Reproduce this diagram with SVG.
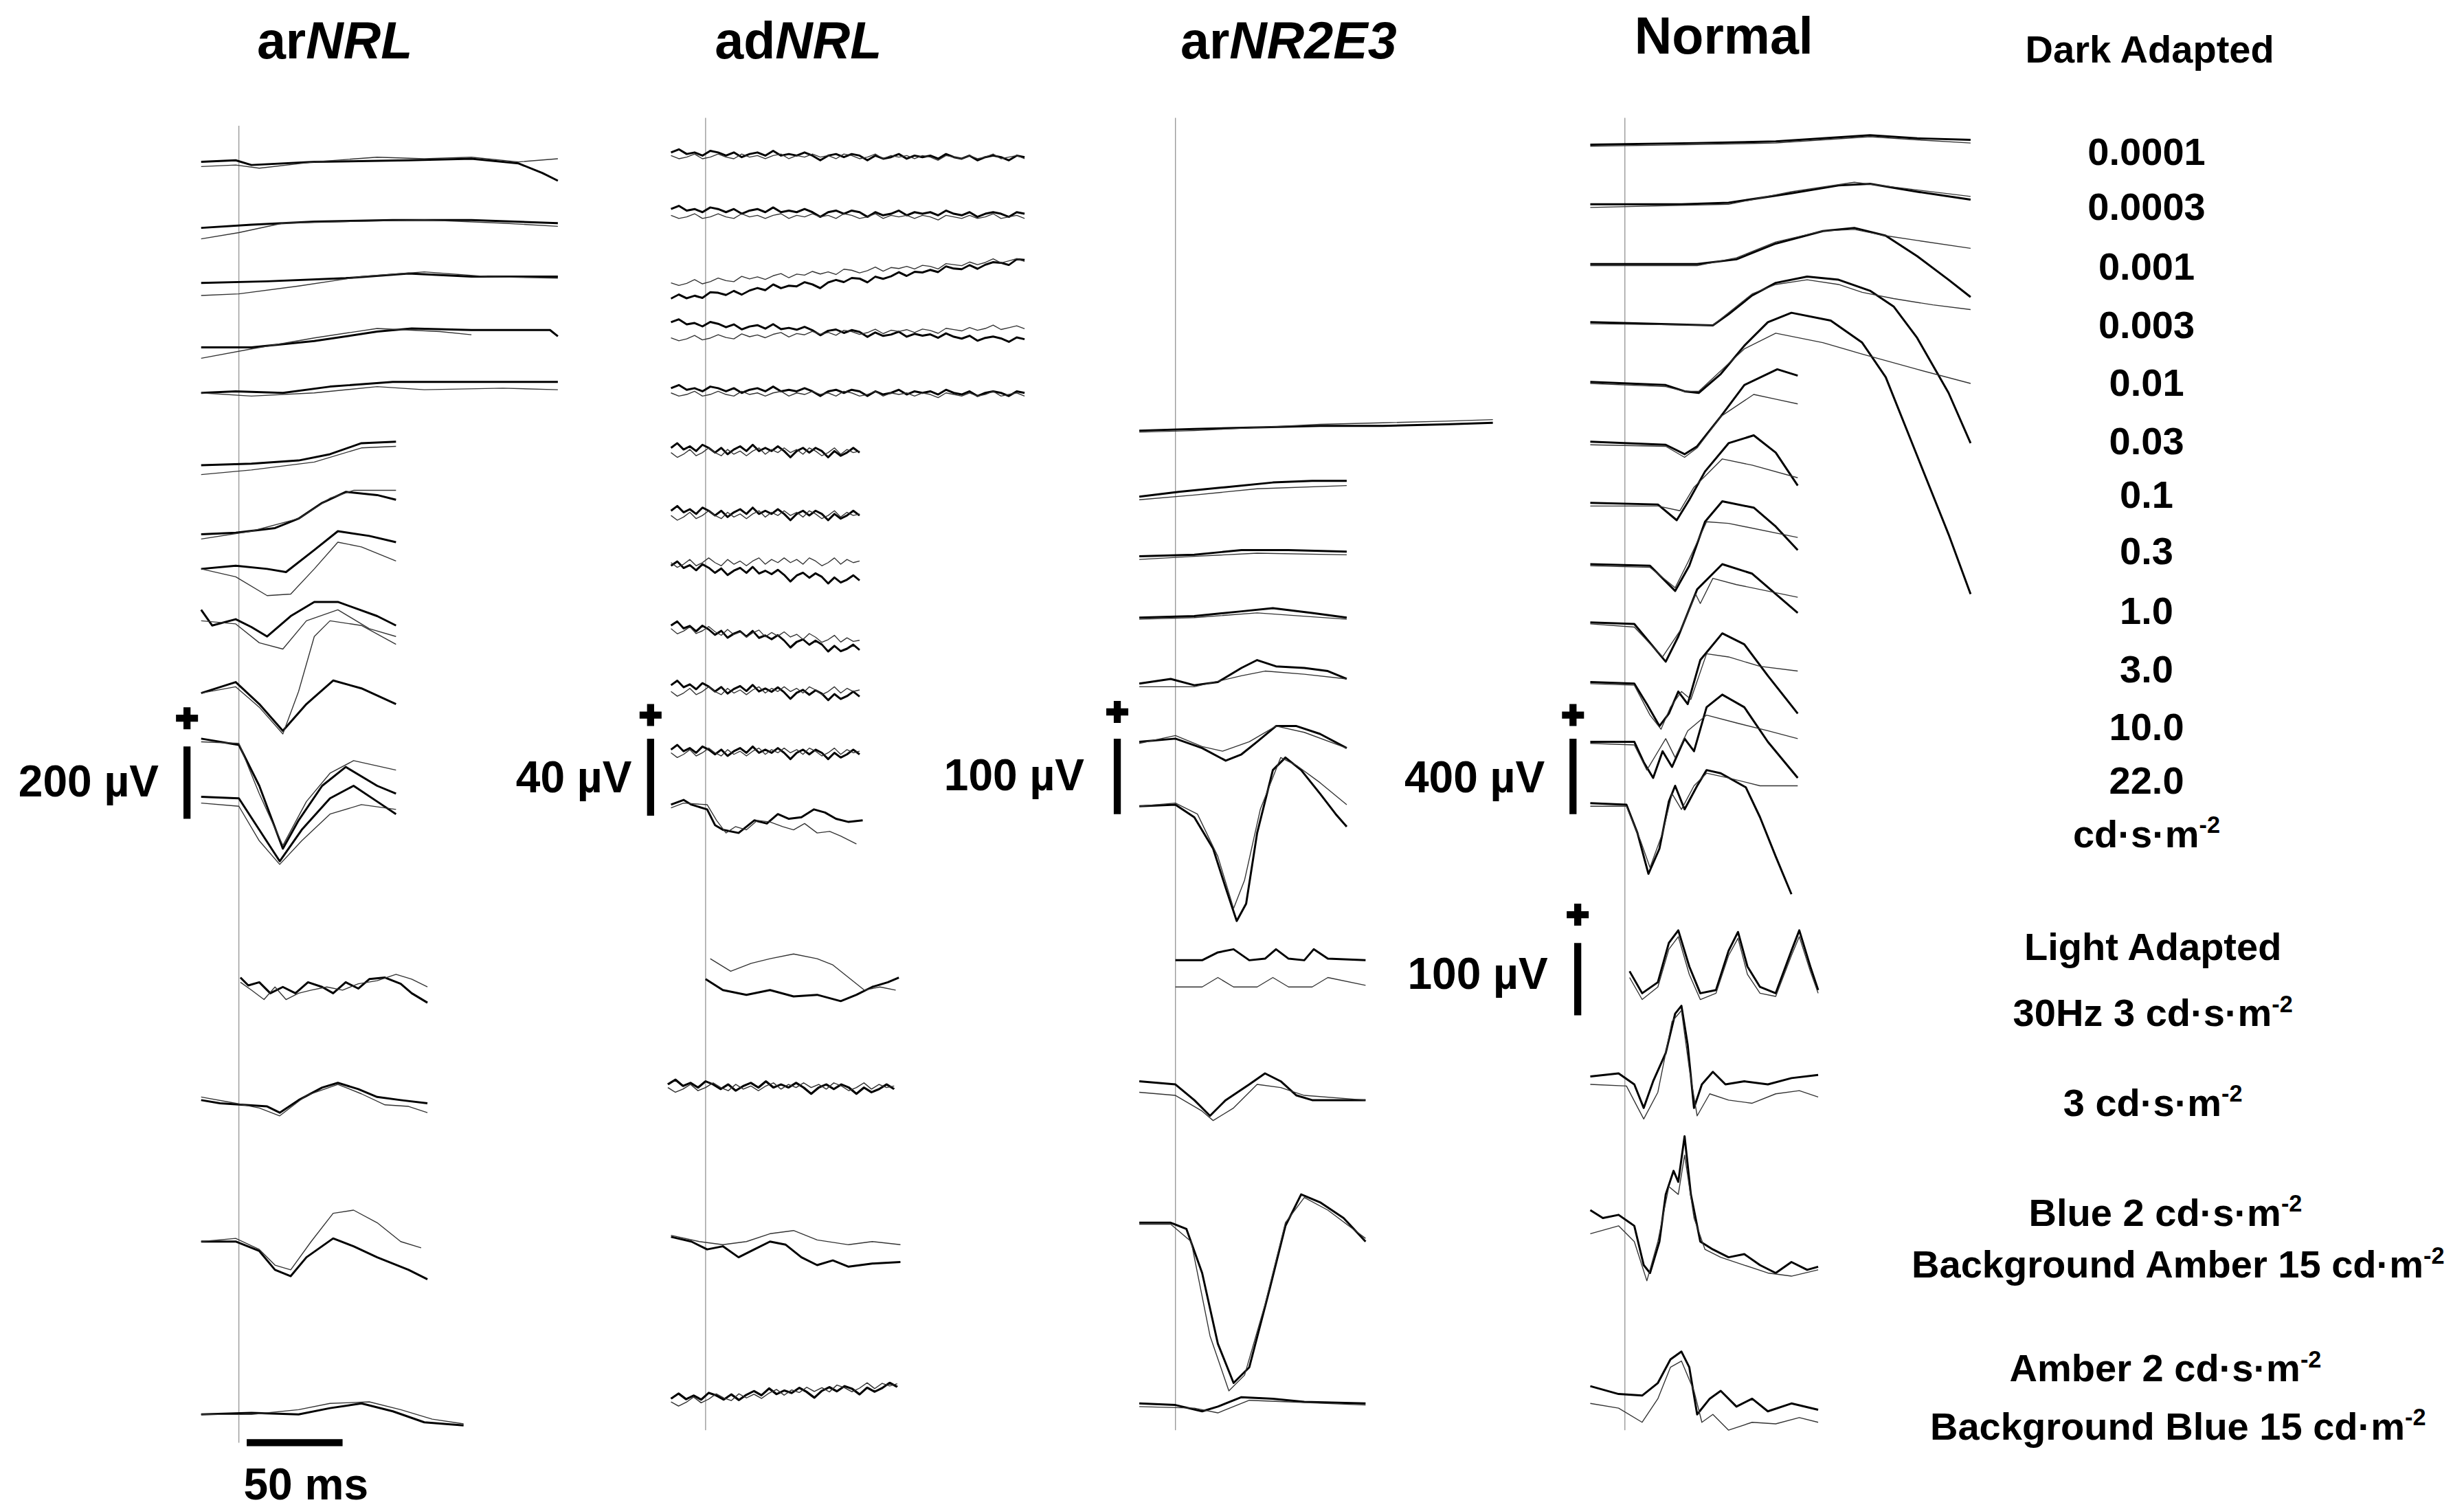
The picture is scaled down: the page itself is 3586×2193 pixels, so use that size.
<svg xmlns="http://www.w3.org/2000/svg" xmlns:xlink="http://www.w3.org/1999/xlink" width="3586" height="2193" viewBox="0 0 3586 2193">
<style>
.k{fill:none;stroke:#000;stroke-width:1.3;stroke-linejoin:round}
.t{fill:none;stroke:#333;stroke-width:0.6;stroke-linejoin:round}
.v{stroke:#999;stroke-width:0.6}
.ti{font-family:"Liberation Sans",Arial,sans-serif;font-weight:bold;font-size:33px;text-anchor:middle}
.lb{font-family:"Liberation Sans",Arial,sans-serif;font-weight:bold;font-size:24.5px;text-anchor:middle}
.sc{font-family:"Liberation Sans",Arial,sans-serif;font-weight:bold;font-size:28px;text-anchor:end}
.bar{stroke:#000;stroke-width:4.5}
</style>
<defs>
<path id="nl" d="M0,0 l5,-2 5,3 5,-1 5,2 5,-3 5,1 5,2 5,-2 5,3 5,-2 5,-1 5,2 5,-3 5,3 5,-1 5,1 5,-2 5,2 5,3 5,-3 5,-1 5,2 5,-2 5,1 5,3 5,-3 5,2 5,-1 5,-2 5,3 5,-2 5,1 5,-1 5,2 5,-3 5,2 5,1 5,-2 5,3 5,-2 5,-1 5,1 5,2 5,-3 5,1"/>
<path id="nt" d="M0,0 l5,2 5,-1 5,-2 5,3 5,-1 5,-2 5,2 5,1 5,-3 5,2 5,-1 5,2 5,-2 5,-1 5,3 5,-2 5,1 5,-2 5,2 5,-1 5,2 5,-3 5,1 5,2 5,-1 5,-2 5,3 5,-2 5,1 5,-1 5,2 5,-2 5,1 5,2 5,-3 5,1 5,1 5,-2 5,2 5,-1 5,-2 5,3 5,-1 5,-1 5,2"/>
<path id="sl" d="M0,0 l4,-3 4,4 4,-2 4,3 4,-4 4,2 4,3 4,-3 4,4 4,-3 4,-2 4,3 4,-4 4,4 4,-2 4,2 4,-3 4,3 4,4 4,-4 4,-2 4,3 4,-3 4,2 4,4 4,-4 4,3 4,-2 4,-3 4,3"/>
<path id="st" d="M0,0 l4,3 4,-2 4,-3 4,4 4,-2 4,-3 4,3 4,2 4,-4 4,3 4,-2 4,3 4,-3 4,-2 4,4 4,-3 4,2 4,-3 4,3 4,-2 4,3 4,-4 4,2 4,3 4,-2 4,-3 4,4 4,-3 4,2 4,-1"/>
</defs>
<g transform="scale(2.287)">
<g id="titles">
<text class="ti" x="213" y="37">ar<tspan font-style="italic">NRL</tspan></text>
<text class="ti" x="508" y="37">ad<tspan font-style="italic">NRL</tspan></text>
<text class="ti" x="820" y="37">ar<tspan font-style="italic">NR2E3</tspan></text>
<text class="ti" x="1097" y="34">Normal</text>
<text class="lb" x="1368" y="40">Dark Adapted</text>
</g>
<g id="labels">
<text class="lb" x="1366" y="105">0.0001</text>
<text class="lb" x="1366" y="140">0.0003</text>
<text class="lb" x="1366" y="178">0.001</text>
<text class="lb" x="1366" y="215">0.003</text>
<text class="lb" x="1366" y="252">0.01</text>
<text class="lb" x="1366" y="289">0.03</text>
<text class="lb" x="1366" y="323">0.1</text>
<text class="lb" x="1366" y="359">0.3</text>
<text class="lb" x="1366" y="397">1.0</text>
<text class="lb" x="1366" y="434">3.0</text>
<text class="lb" x="1366" y="471">10.0</text>
<text class="lb" x="1366" y="505">22.0</text>
<text class="lb" x="1366" y="539">cd·s·m<tspan font-size="15" dy="-9">-2</tspan></text>
<text class="lb" x="1370" y="611">Light Adapted</text>
<text class="lb" x="1370" y="653">30Hz 3 cd·s·m<tspan font-size="15" dy="-9">-2</tspan></text>
<text class="lb" x="1370" y="710">3 cd·s·m<tspan font-size="15" dy="-9">-2</tspan></text>
<text class="lb" x="1378" y="780">Blue 2 cd·s·m<tspan font-size="15" dy="-9">-2</tspan></text>
<text class="lb" x="1386" y="813">Background Amber 15 cd·m<tspan font-size="15" dy="-9">-2</tspan></text>
<text class="lb" x="1378" y="879">Amber 2 cd·s·m<tspan font-size="15" dy="-9">-2</tspan></text>
<text class="lb" x="1386" y="916">Background Blue 15 cd·m<tspan font-size="15" dy="-9">-2</tspan></text>
</g>
<g id="scalebars">
<path class="bar" d="M119,475 V521 M414,470 V519 M711,470 V518 M1001,470 V518 M1004,600 V646 M157,918 H218"/>
<path class="bar" stroke-width="3" d="M112,457 H126 M119,450 V464 M407,455 H421 M414,448 V462 M704,453 H718 M711,446 V460 M994,455 H1008 M1001,448 V462 M997,582 H1011 M1004,575 V589"/>
<text class="sc" x="101" y="507">200 µV</text>
<text class="sc" x="402" y="504">40 µV</text>
<text class="sc" x="690" y="503">100 µV</text>
<text class="sc" x="983" y="504">400 µV</text>
<text class="sc" x="985" y="629">100 µV</text>
<text class="sc" x="155" y="954" style="text-anchor:start">50 ms</text>
</g>
<g id="stimlines">
<path class="v" d="M152,80 V918 M449,75 V910 M748,75 V910 M1034,75 V910"/>
</g>
<g id="arNRL">
<path class="k" d="M128,103 L150,102 L160,105 L200,103 L260,102 L300,101 L330,104 L345,110 L355,115"/>
<path class="t" d="M128,106 L150,105 L165,107 L200,103 L240,100 L270,101 L300,100 L330,103 L355,101"/>
<path class="k" d="M128,145 L160,143 L200,141 L250,140 L300,140 L355,142"/>
<path class="t" d="M128,152 L152,148 L180,142 L220,141 L270,140 L320,142 L355,144"/>
<path class="k" d="M128,180 L170,179 L220,177 L260,174 L300,176 L355,176"/>
<path class="t" d="M128,188 L152,187 L190,182 L230,176 L270,173 L310,176 L355,177"/>
<path class="k" d="M128,221 L160,221 L200,217 L240,211 L262,209 L300,210 L350,210 L355,214"/>
<path class="t" d="M128,228 L160,222 L200,215 L240,209 L280,211 L300,213"/>
<path class="k" d="M128,250 L150,249 L180,250 L210,246 L250,243 L300,243 L355,243"/>
<path class="t" d="M128,250 L160,252 L200,250 L240,246 L270,248 L320,247 L355,248"/>
<path class="k" d="M128,296 L160,295 L190,293 L210,289 L230,282 L252,281"/>
<path class="t" d="M128,302 L160,299 L200,294 L230,285 L252,284"/>
<path class="k" d="M128,340 L150,339 L175,336 L190,330 L205,320 L220,313 L240,315 L252,318"/>
<path class="t" d="M128,343 L160,338 L190,330 L210,317 L225,312 L252,312"/>
<path class="k" d="M128,362 L150,360 L170,362 L182,364 L200,350 L215,338 L235,341 L252,345"/>
<path class="t" d="M128,362 L150,367 L170,379 L185,378 L200,362 L215,345 L230,348 L252,357"/>
<path class="k" d="M128,388 L135,398 L150,394 L160,399 L170,405 L185,392 L200,383 L215,383 L240,392 L252,398"/>
<path class="t" d="M128,395 L150,397 L165,409 L180,413 L195,395 L215,388 L235,400 L252,405"/>
<path class="k" d="M128,441 L150,434 L165,448 L180,465 L195,448 L212,433 L230,438 L252,448"/>
<path class="t" d="M128,441 L150,437 L165,450 L180,467 L190,440 L200,405 L210,395 L230,398 L252,410"/>
<path class="k" d="M128,470 L152,474 L165,500 L180,540 L190,522 L205,500 L220,488 L240,500 L252,505"/>
<path class="t" d="M128,472 L152,473 L165,505 L180,538 L195,510 L210,492 L225,484 L252,490"/>
<path class="k" d="M128,507 L152,508 L165,528 L178,548 L192,528 L210,508 L225,500 L240,510 L252,518"/>
<path class="t" d="M128,511 L152,513 L165,535 L178,550 L192,535 L210,518 L230,512 L252,515"/>
<path class="k" d="M153,622 L158,627 L165,625 L172,632 L180,628 L188,632 L196,625 L205,628 L212,632 L220,625 L228,629 L235,623 L245,622 L255,626 L262,632 L272,638"/>
<path class="t" d="M153,625 L160,630 L168,636 L175,628 L182,636 L190,632 L198,630 L208,628 L218,630 L228,626 L240,624 L252,620 L262,623 L272,628"/>
<path class="k" d="M128,700 L140,702 L155,703 L170,704 L178,708 L190,700 L205,692 L215,689 L228,693 L240,698 L255,700 L272,702"/>
<path class="t" d="M128,698 L150,702 L165,705 L178,710 L195,697 L215,690 L230,696 L245,703 L260,704 L272,708"/>
<path class="k" d="M128,790 L150,790 L165,796 L175,808 L185,812 L195,800 L212,788 L225,793 L240,800 L260,808 L272,814"/>
<path class="t" d="M128,790 L150,788 L165,795 L175,805 L185,808 L198,790 L212,772 L225,770 L240,778 L255,790 L268,794"/>
<path class="k" d="M128,900 L160,899 L190,900 L210,896 L230,893 L250,898 L270,905 L295,907"/>
<path class="t" d="M128,900 L160,900 L190,897 L210,893 L235,892 L255,897 L275,903 L295,906"/>
</g>
<g id="adNRL">
<use href="#nl" class="k" transform="translate(427,97)"/><use href="#nt" class="t" transform="translate(427,99)"/>
<use href="#nl" class="k" transform="translate(427,133)"/><use href="#nt" class="t" transform="translate(427,137)"/>
<use href="#nl" class="k" transform="translate(427,190) skewY(-7)"/><use href="#nt" class="t" transform="translate(427,180) skewY(-4)"/>
<use href="#nl" class="k" transform="translate(427,205) skewY(2)"/><use href="#nt" class="t" transform="translate(427,215) skewY(-2)"/>
<use href="#nl" class="k" transform="translate(427,247)"/><use href="#nt" class="t" transform="translate(427,250)"/>
<use href="#sl" class="k" transform="translate(427,285)"/><use href="#st" class="t" transform="translate(427,288)"/>
<use href="#sl" class="k" transform="translate(427,325)"/><use href="#st" class="t" transform="translate(427,328)"/>
<use href="#sl" class="k" transform="translate(427,360) skewY(3)"/><use href="#st" class="t" transform="translate(427,358)"/>
<use href="#sl" class="k" transform="translate(427,398) skewY(6)"/><use href="#st" class="t" transform="translate(427,400) skewY(4)"/>
<use href="#sl" class="k" transform="translate(427,436) skewY(2)"/><use href="#st" class="t" transform="translate(427,440)"/>
<use href="#sl" class="k" transform="translate(427,477)"/><use href="#st" class="t" transform="translate(427,479)"/>
<path class="k" d="M427,512 L435,509 L440,512 L450,515 L455,525 L460,528 L470,530 L480,522 L488,524 L495,518 L502,521 L510,520 L518,515 L525,517 L532,521 L540,523 L549,522"/>
<path class="t" d="M427,514 L435,511 L450,512 L456,522 L462,530 L468,526 L475,528 L482,522 L490,523 L498,526 L505,528 L512,524 L520,530 L528,529 L535,532 L545,537"/>
<path class="k" d="M449,623 L460,630 L475,633 L490,630 L505,634 L520,633 L535,637 L545,633 L555,628 L565,625 L572,622"/>
<path class="t" d="M452,610 L465,618 L478,613 L490,610 L505,607 L520,610 L530,614 L540,622 L550,630 L560,628 L570,630"/>
<use href="#sl" class="k" transform="translate(425,690) scale(1.2,1)"/><use href="#st" class="t" transform="translate(425,692) scale(1.2,1)"/>
<path class="k" d="M427,787 L440,790 L450,795 L460,793 L470,800 L480,795 L490,790 L500,792 L510,800 L520,805 L530,802 L540,806 L555,804 L573,803"/>
<path class="t" d="M427,786 L445,790 L460,792 L475,790 L490,785 L505,783 L520,789 L540,792 L555,790 L573,792"/>
<use href="#sl" class="k" transform="translate(427,890) scale(1.2,1) skewY(-5)"/><use href="#st" class="t" transform="translate(427,892) scale(1.2,1) skewY(-5)"/>
</g>
<g id="arNR2E3">
<path class="k" d="M725,274 L760,273 L800,272 L840,271 L880,271 L920,270 L950,269"/>
<path class="t" d="M725,275 L760,274 L800,272 L840,270 L880,269 L920,268 L950,267"/>
<path class="k" d="M725,316 L750,313 L780,310 L810,307 L835,306 L857,306"/>
<path class="t" d="M725,318 L760,315 L800,311 L857,309"/>
<path class="k" d="M725,354 L760,353 L790,350 L820,350 L857,351"/>
<path class="t" d="M725,356 L760,354 L800,352 L857,353"/>
<path class="k" d="M725,393 L760,392 L790,389 L810,387 L835,390 L857,393"/>
<path class="t" d="M725,394 L760,393 L800,390 L857,394"/>
<path class="k" d="M725,435 L745,432 L760,436 L775,434 L790,425 L800,420 L812,424 L830,425 L845,427 L857,432"/>
<path class="t" d="M725,437 L760,437 L790,430 L805,427 L830,429 L857,432"/>
<path class="k" d="M725,472 L748,470 L765,476 L780,484 L790,480 L800,472 L812,462 L825,462 L840,467 L857,476"/>
<path class="t" d="M725,473 L748,468 L765,475 L778,478 L795,472 L812,462 L830,466 L857,476"/>
<path class="k" d="M725,513 L748,512 L760,520 L772,540 L780,565 L787,586 L793,575 L800,530 L810,490 L818,482 L828,490 L840,505 L850,518 L857,526"/>
<path class="t" d="M725,513 L748,511 L762,518 L775,545 L785,578 L792,560 L802,515 L815,482 L825,487 L840,498 L857,512"/>
<path class="k" d="M748,611 L765,611 L775,606 L785,604 L795,611 L805,610 L812,604 L820,610 L830,611 L836,604 L845,610 L869,611"/>
<path class="t" d="M748,628 L765,628 L775,622 L785,628 L800,628 L810,622 L820,628 L835,628 L845,622 L869,627"/>
<path class="k" d="M725,688 L748,690 L760,700 L770,710 L780,700 L795,690 L805,683 L815,688 L825,697 L835,700 L850,700 L869,700"/>
<path class="t" d="M725,695 L748,697 L765,707 L772,713 L785,705 L800,690 L815,692 L830,697 L869,700"/>
<path class="k" d="M725,778 L745,778 L755,782 L765,810 L775,855 L785,880 L795,870 L808,820 L818,780 L828,760 L840,765 L855,775 L869,790"/>
<path class="t" d="M725,779 L745,779 L758,790 L770,850 L782,885 L792,875 L805,830 L818,778 L830,762 L845,770 L869,788"/>
<path class="k" d="M725,893 L748,894 L765,898 L775,895 L790,889 L810,890 L830,892 L869,893"/>
<path class="t" d="M725,895 L760,896 L775,899 L795,891 L820,892 L869,894"/>
</g>
<g id="Normal">
<path class="k" d="M1012,92 L1080,91 L1130,90 L1160,88 L1190,86 L1220,88 L1254,89"/>
<path class="t" d="M1012,93 L1080,92 L1130,91 L1160,89 L1190,87 L1220,89 L1254,91"/>
<path class="k" d="M1012,130 L1070,130 L1100,129 L1140,123 L1170,118 L1190,117 L1220,122 L1254,127"/>
<path class="t" d="M1012,132 L1100,130 L1140,122 L1180,116 L1254,125"/>
<path class="k" d="M1012,168 L1080,168 L1105,165 L1130,155 L1160,147 L1180,145 L1200,150 L1220,163 L1240,178 L1254,189"/>
<path class="t" d="M1012,169 L1080,169 L1105,164 L1130,154 L1160,147 L1180,146 L1200,150 L1220,153 L1254,158"/>
<path class="k" d="M1012,205 L1090,207 L1100,200 L1115,188 L1130,180 L1150,176 L1170,178 L1190,185 L1205,195 L1220,215 L1240,250 L1254,282"/>
<path class="t" d="M1012,206 L1090,207 L1100,199 L1115,187 L1130,181 L1150,178 L1170,181 L1185,186 L1205,190 L1230,194 L1254,197"/>
<path class="k" d="M1012,243 L1060,245 L1072,249 L1081,250 L1095,238 L1110,220 L1125,205 L1140,199 L1165,204 L1185,218 L1200,240 L1220,290 L1240,340 L1254,378"/>
<path class="t" d="M1012,244 L1060,246 L1072,249 L1081,249 L1095,236 L1110,222 L1130,212 L1160,218 L1184,225 L1220,235 L1254,244"/>
<path class="k" d="M1012,281 L1060,283 L1072,289 L1080,284 L1095,265 L1110,245 L1131,235 L1144,239"/>
<path class="t" d="M1012,283 L1060,284 L1072,291 L1080,285 L1095,265 L1116,251 L1130,254 L1144,257"/>
<path class="k" d="M1012,320 L1055,321 L1067,331 L1075,318 L1085,300 L1100,282 L1116,277 L1130,288 L1144,309"/>
<path class="t" d="M1012,322 L1055,322 L1069,325 L1078,310 L1096,292 L1115,296 L1144,304"/>
<path class="k" d="M1012,359 L1050,360 L1066,376 L1075,360 L1085,332 L1096,319 L1116,323 L1130,335 L1144,350"/>
<path class="t" d="M1012,360 L1050,361 L1066,374 L1074,358 L1086,332 L1100,333 L1144,342"/>
<path class="k" d="M1012,396 L1040,397 L1060,421 L1068,405 L1080,375 L1096,359 L1115,365 L1130,378 L1144,390"/>
<path class="t" d="M1012,397 L1040,399 L1058,418 L1070,400 L1079,378 L1082,384 L1090,368 L1105,372 L1144,380"/>
<path class="k" d="M1012,434 L1040,435 L1048,448 L1056,462 L1062,454 L1068,440 L1074,448 L1082,420 L1096,403 L1110,410 L1125,430 L1144,454"/>
<path class="t" d="M1012,435 L1040,436 L1050,455 L1057,464 L1063,450 L1070,440 L1076,445 L1086,416 L1100,418 L1120,424 L1144,427"/>
<path class="k" d="M1012,472 L1040,472 L1046,485 L1052,495 L1058,478 L1064,488 L1072,470 L1078,478 L1086,450 L1096,442 L1110,450 L1125,472 L1144,495"/>
<path class="t" d="M1012,473 L1040,474 L1048,490 L1054,480 L1060,470 L1066,482 L1074,465 L1086,455 L1105,460 L1125,465 L1144,470"/>
<path class="k" d="M1012,511 L1035,512 L1042,530 L1049,556 L1056,540 L1062,510 L1066,500 L1072,515 L1080,500 L1086,490 L1095,492 L1111,501 L1120,520 L1130,545 L1140,569"/>
<path class="t" d="M1012,513 L1035,513 L1044,535 L1050,552 L1058,530 L1064,505 L1070,515 L1078,500 L1086,492 L1100,495 L1120,500 L1144,500"/>
<path class="k" d="M1037,618 L1045,632 L1055,625 L1062,600 L1068,592 L1075,615 L1082,632 L1092,630 L1100,605 L1106,593 L1112,615 L1120,628 L1130,632 L1140,605 L1145,592 L1152,615 L1157,630"/>
<path class="t" d="M1037,622 L1045,636 L1055,628 L1062,604 L1068,596 L1075,620 L1082,636 L1092,632 L1100,608 L1106,597 L1112,620 L1120,632 L1130,634 L1140,608 L1145,596 L1152,618 L1157,632"/>
<path class="k" d="M1012,685 L1030,683 L1040,690 L1046,705 L1052,688 L1060,670 L1066,645 L1070,640 L1074,665 L1078,705 L1083,690 L1090,682 L1098,690 L1110,688 L1125,690 L1140,686 L1157,684"/>
<path class="t" d="M1012,690 L1035,691 L1046,712 L1055,695 L1064,650 L1070,643 L1075,680 L1080,710 L1088,696 L1100,700 L1115,702 L1130,696 L1145,694 L1157,698"/>
<path class="k" d="M1012,770 L1020,775 L1030,773 L1040,780 L1046,805 L1050,810 L1056,790 L1060,760 L1065,745 L1068,752 L1072,723 L1076,760 L1082,790 L1090,795 L1100,800 L1110,798 L1120,805 L1130,810 L1140,803 L1150,808 L1157,806"/>
<path class="t" d="M1012,785 L1030,780 L1040,790 L1048,815 L1055,790 L1062,755 L1068,760 L1072,735 L1078,775 L1085,795 L1095,800 L1110,805 L1125,810 L1140,812 L1157,808"/>
<path class="k" d="M1012,882 L1030,887 L1045,888 L1055,880 L1063,865 L1070,860 L1075,870 L1080,900 L1088,890 L1095,885 L1105,895 L1115,890 L1125,898 L1140,893 L1157,897"/>
<path class="t" d="M1012,893 L1030,896 L1045,905 L1055,890 L1063,870 L1070,866 L1078,885 L1083,905 L1090,900 L1100,910 L1115,905 L1130,906 L1145,902 L1157,905"/>
</g>
</g>
</svg>
